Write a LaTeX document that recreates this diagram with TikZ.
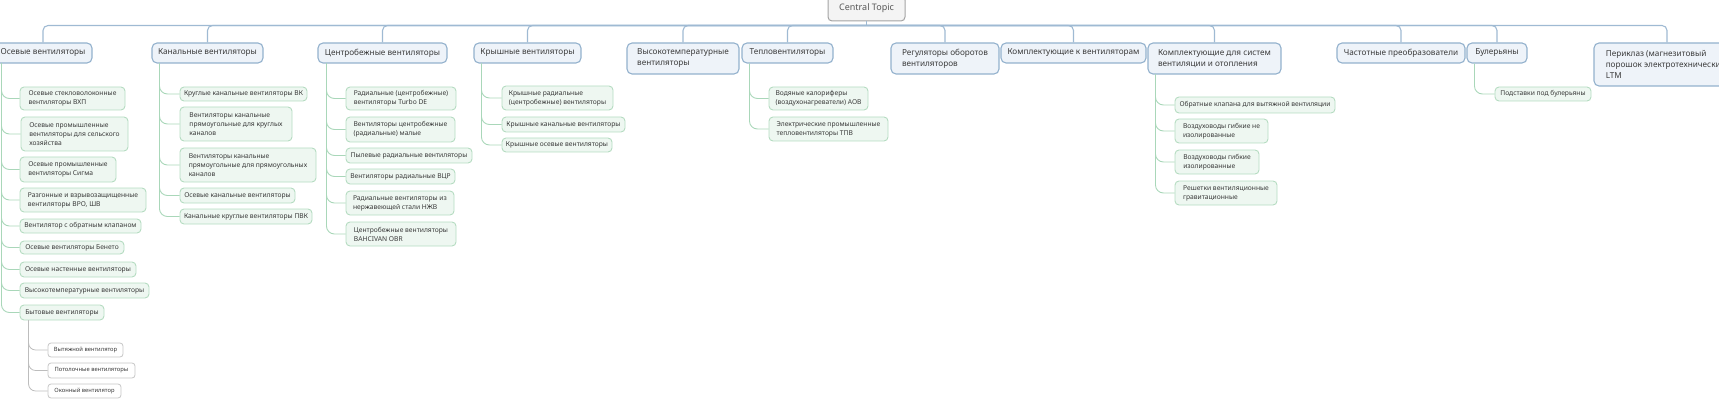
\documentclass[tikz,border=0pt]{standalone}
\usepackage{fontspec}
\setmainfont{Noto Sans}
\definecolor{mainf}{HTML}{EEF3F9}
\definecolor{mainb}{HTML}{93B1CD}
\definecolor{busc}{HTML}{9FBAD3}
\definecolor{subf}{HTML}{EEF7F1}
\definecolor{subb}{HTML}{B5DCC1}
\definecolor{subl}{HTML}{A9D7B9}
\definecolor{gbord}{HTML}{C6C6C6}
\definecolor{gline}{HTML}{BDBDBD}
\definecolor{txt}{HTML}{3A3A3A}
\definecolor{ctf}{HTML}{F4F4F4}
\definecolor{ctb}{HTML}{A3A3A3}
\newcommand{\mybox}[7]{\node[#2,minimum width={(#5)-(#3)},minimum height={(#6)-(#4)}] (#1) at ({((#3)+(#5))/2},{((#4)+(#6))/2}) {#7};}
\begin{document}
\begin{tikzpicture}[x=1pt,y=-1pt,
  maintopic/.style={draw=mainb,fill=mainf,rounded corners=5pt,line width=1.1pt,text=txt,
    font=\fontsize{8.2}{11}\selectfont,align=left,inner sep=0pt},
  subtopic/.style={draw=subb,fill=subf,rounded corners=4pt,line width=0.9pt,text=txt,
    font=\fontsize{6.7}{9}\selectfont,align=left,inner sep=0pt},
  gtopic/.style={draw=gbord,fill=white,rounded corners=3pt,line width=0.8pt,text=txt,
    font=\fontsize{5.8}{7.5}\selectfont,align=left,inner sep=0pt},
  central/.style={draw=ctb,fill=ctf,rounded corners=4pt,line width=1pt,text=txt!85,
    font=\fontsize{9}{11}\selectfont,inner sep=0pt},
  busline/.style={draw=busc,line width=1.1pt,rounded corners=5pt},
  subline/.style={draw=subl,line width=0.9pt,rounded corners=8pt},
  gline/.style={draw=gline,line width=0.8pt,rounded corners=7pt}]
\useasboundingbox (0,0) rectangle (1719,409);
% central
\mybox{ct}{central}{828}{-4}{905}{21}{Central Topic}
% main topics
\mybox{osev}{maintopic}{-6}{43}{92}{63}{Осевые вентиляторы}
\mybox{kan}{maintopic}{152}{43}{263}{63}{Канальные вентиляторы}
\mybox{cen}{maintopic}{318}{43}{447}{63}{Центробежные вентиляторы}
\mybox{kry}{maintopic}{474}{43}{581}{63}{Крышные вентиляторы}
\mybox{vys}{maintopic}{627}{43}{739}{74}{Высокотемпературные\\вентиляторы}
\mybox{tep}{maintopic}{742}{43}{833}{63}{Тепловентиляторы}
\mybox{reg}{maintopic}{891}{43}{999}{74}{Регуляторы оборотов\\вентиляторов}
\mybox{kvn}{maintopic}{1001}{43}{1146}{63}{Комплектующие к вентиляторам}
\mybox{ksv}{maintopic}{1148}{43}{1281}{74}{Комплектующие для систем\\вентиляции и отопления}
\mybox{chp}{maintopic}{1337}{43}{1465}{63}{Частотные преобразователи}
\mybox{bul}{maintopic}{1467}{43}{1527}{63}{Булерьяны}
\mybox{per}{maintopic}{1594}{43}{1740}{86}{Периклаз (магнезитовый\\порошок электротехнический)\\LTM}
% bus
\coordinate (bus) at ([yshift=-4pt]ct.south);
\draw[busline] (ct.south) -- (bus);
\foreach \m in {osev,kan,cen,kry,vys,tep,reg,kvn,ksv,chp,bul,per}
  \draw[busline] (bus) -| (\m.north);
% Осевые
\mybox{o1}{subtopic}{20}{87}{125}{110}{Осевые стекловолоконные\\вентиляторы ВХП}
\mybox{o2}{subtopic}{21}{117}{128}{151}{Осевые промышленные\\вентиляторы для сельского\\хозяйства}
\mybox{o3}{subtopic}{20}{157}{116}{182}{Осевые промышленные\\вентиляторы Сигма}
\mybox{o4}{subtopic}{20}{188}{146}{212}{Разгонные и взрывозащищенные\\вентиляторы ВРО, ШВ}
\mybox{o5}{subtopic}{20}{219}{141}{233}{Вентилятор с обратным клапаном}
\mybox{o6}{subtopic}{20}{241}{124}{254}{Осевые вентиляторы Бенето}
\mybox{o7}{subtopic}{20}{262}{136}{277}{Осевые настенные вентиляторы}
\mybox{o8}{subtopic}{20}{283}{149}{298}{Высокотемпературные вентиляторы}
\mybox{o9}{subtopic}{20}{305}{104}{320}{Бытовые вентиляторы}
\foreach \c in {o1,o2,o3,o4,o5,o6,o7,o8,o9}
  \draw[subline] ([xshift=8pt]osev.south west) |- (\c.west);
% Бытовые
\mybox{g1}{gtopic}{48}{343}{123}{357}{Вытяжной вентилятор}
\mybox{g2}{gtopic}{48}{363}{135}{378}{Потолочные вентиляторы}
\mybox{g3}{gtopic}{48}{384}{121}{398}{Оконный вентилятор}
\foreach \c in {g1,g2,g3}
  \draw[gline] ([xshift=9pt]o9.south west) |- (\c.west);
% Канальные
\mybox{k1}{subtopic}{180}{87}{307}{101}{Круглые канальные вентиляторы ВК}
\mybox{k2}{subtopic}{180}{107}{292}{141}{Вентиляторы канальные\\прямоугольные для круглых\\каналов}
\mybox{k3}{subtopic}{180}{148}{316}{182}{Вентиляторы канальные\\прямоугольные для прямоугольных\\каналов}
\mybox{k4}{subtopic}{180}{188}{295}{203}{Осевые канальные вентиляторы}
\mybox{k5}{subtopic}{180}{209}{312}{224}{Канальные круглые вентиляторы ПВК}
\foreach \c in {k1,k2,k3,k4,k5}
  \draw[subline] ([xshift=8pt]kan.south west) |- (\c.west);
% Центробежные
\mybox{c1}{subtopic}{346}{87}{456}{110}{Радиальные (центробежные)\\вентиляторы Turbo DE}
\mybox{c2}{subtopic}{346}{117}{455}{142}{Вентиляторы центробежные\\(радиальные) малые}
\mybox{c3}{subtopic}{346}{148}{472}{163}{Пылевые радиальные вентиляторы}
\mybox{c4}{subtopic}{346}{169}{455}{184}{Вентиляторы радиальные ВЦР}
\mybox{c5}{subtopic}{346}{191}{454}{215}{Радиальные вентиляторы из\\нержавеющей стали НЖВ}
\mybox{c6}{subtopic}{346}{222}{456}{246}{Центробежные вентиляторы\\BAHCIVAN OBR}
\foreach \c in {c1,c2,c3,c4,c5,c6}
  \draw[subline] ([xshift=9pt]cen.south west) |- (\c.west);
% Крышные
\mybox{r1}{subtopic}{502}{86}{613}{110}{Крышные радиальные\\(центробежные) вентиляторы}
\mybox{r2}{subtopic}{502}{117}{625}{132}{Крышные канальные вентиляторы}
\mybox{r3}{subtopic}{502}{138}{612}{152}{Крышные осевые вентиляторы}
\foreach \c in {r1,r2,r3}
  \draw[subline] ([xshift=8pt]kry.south west) |- (\c.west);
% Тепловентиляторы
\mybox{t1}{subtopic}{769}{87}{868}{110}{Водяные калориферы\\(воздухонагреватели) АОВ}
\mybox{t2}{subtopic}{769}{117}{888}{141}{Электрические промышленные\\тепловентиляторы ТПВ}
\foreach \c in {t1,t2}
  \draw[subline] ([xshift=8pt]tep.south west) |- (\c.west);
% Комплектующие для систем
\mybox{s1}{subtopic}{1175}{97}{1335}{113}{Обратные клапана для вытяжной вентиляции}
\mybox{s2}{subtopic}{1175}{119}{1268}{143}{Воздуховоды гибкие не\\изолированные}
\mybox{s3}{subtopic}{1175}{150}{1259}{174}{Воздуховоды гибкие\\изолированные}
\mybox{s4}{subtopic}{1175}{181}{1277}{205}{Решетки вентиляционные\\гравитационные}
\foreach \c in {s1,s2,s3,s4}
  \draw[subline] ([xshift=8pt]ksv.south west) |- (\c.west);
% Булерьяны
\mybox{b1}{subtopic}{1495}{87}{1591}{101}{Подставки под булерьяны}
\draw[subline] ([xshift=8pt]bul.south west) |- (b1.west);
\end{tikzpicture}
\end{document}
